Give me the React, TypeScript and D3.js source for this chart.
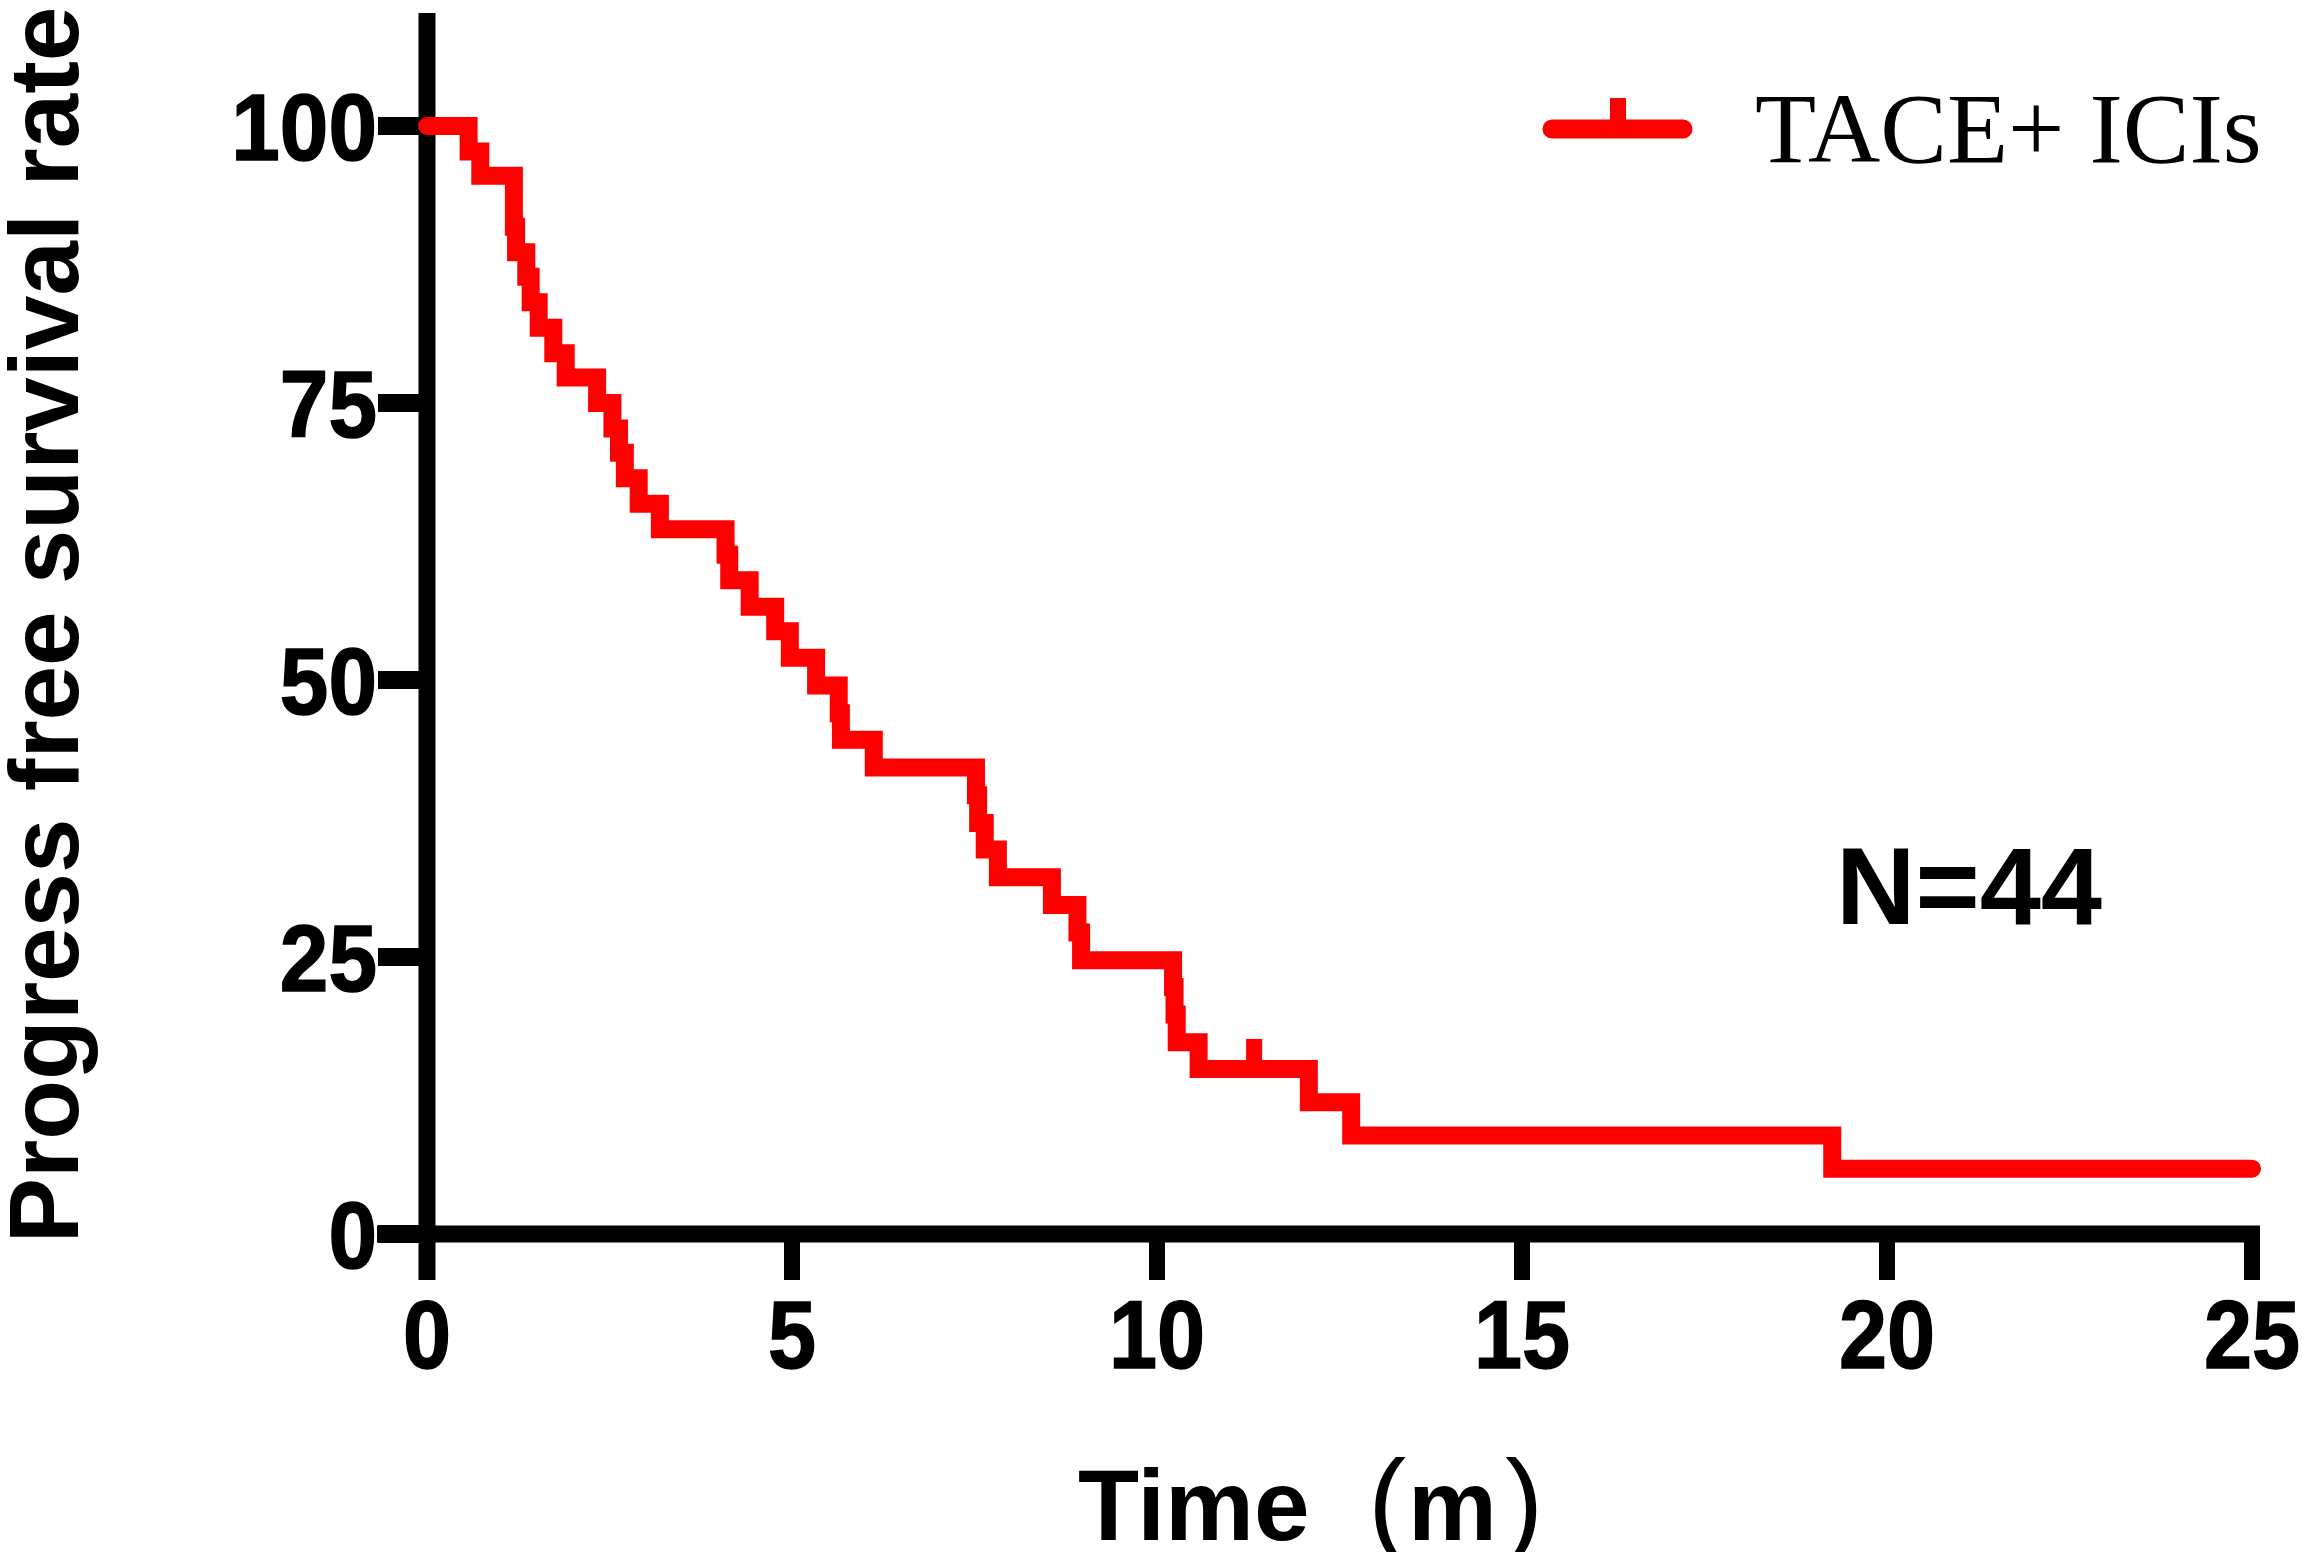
import React from "react";
import * as d3 from "d3";

// ---- data ----
const eventTimes = [0, 0.57, 0.73, 1.19, 1.22, 1.36, 1.42, 1.53, 1.73, 1.9, 2.33, 2.54, 2.63, 2.71, 2.9, 3.19, 4.09, 4.14, 4.42, 4.77, 4.97, 5.33, 5.64, 5.67, 6.12, 7.52, 7.55, 7.64, 7.82, 8.56, 8.91, 8.96, 10.22, 10.24, 10.27, 10.57, 12.08, 12.66, 19.25, 25];
const survival = [100, 97.7, 95.5, 90.9, 88.6, 86.4, 84.1, 81.8, 79.5, 77.3, 75.0, 72.7, 70.5, 68.2, 65.9, 63.6, 61.3, 59.0, 56.6, 54.4, 52.0, 49.5, 47.0, 44.6, 42.1, 39.6, 37.1, 34.7, 32.2, 29.7, 27.2, 24.7, 22.3, 19.8, 17.3, 14.9, 11.9, 8.9, 5.9, 5.9];
const censorTimes = [11.33];
const censorValues = [14.9];
const xTicks = [0, 5, 10, 15, 20, 25];
const yTicks = [0, 25, 50, 75, 100];
const seriesName = "TACE+ ICIs";
const nLabel = "N=44";
const xTitle = "Time";
const xUnit = "m";
const yTitle = "Progress free survival rate";

const W = 2303;
const H = 1552;
const RED = "#FF0000";
const SANS = "'Liberation Sans', Arial, Helvetica, sans-serif";

export default function App() {
  const x = d3.scaleLinear().domain([0, 25]).range([427, 2252]);
  const y = d3.scaleLinear().domain([0, 100]).range([1234, 126]);
  const pts: [number, number][] = eventTimes.map((t, i) => [t, survival[i]]);
  const line = d3
    .line<[number, number]>()
    .x((d) => x(d[0]))
    .y((d) => y(d[1]))
    .curve(d3.curveStepAfter);

  const x0 = x(0);
  const y0 = y(0);

  return (
    <svg
      width={W}
      height={H}
      viewBox={`0 0 ${W} ${H}`}
      style={{ position: "absolute", left: 0, top: 0, background: "#fff" }}
    >
      <rect x={0} y={0} width={W} height={H} fill="#fff" />
      {/* axes */}
      <line x1={x0} x2={x0} y1={13} y2={1280} stroke="#000" strokeWidth={17} />
      <line x1={377} x2={x(25) + 8} y1={y0} y2={y0} stroke="#000" strokeWidth={17} />
      {xTicks.map((t) => (
        <g key={"xt" + t}>
          <line x1={x(t)} x2={x(t)} y1={y0} y2={1280} stroke="#000" strokeWidth={16} />
          <g transform={`translate(${x(t)},1368) scale(0.9,1)`}>
            <text
              textAnchor="middle"
              fontFamily={SANS}
              fontWeight="bold"
              fontSize={96}
              fill="#000"
              stroke="#000"
              strokeWidth={1.5}
            >
              {t}
            </text>
          </g>
        </g>
      ))}
      {yTicks.map((t) => (
        <g key={"yt" + t}>
          <line x1={378} x2={x0} y1={y(t)} y2={y(t)} stroke="#000" strokeWidth={18} />
          <g transform={`translate(377,${y(t) + 34}) scale(0.92,1)`}>
            <text
              textAnchor="end"
              fontFamily={SANS}
              fontWeight="bold"
              fontSize={95}
              fill="#000"
              stroke="#000"
              strokeWidth={1.5}
            >
              {t}
            </text>
          </g>
        </g>
      ))}
      {/* axis titles */}
      <text
        transform={`translate(78,625) rotate(-90)`}
        textAnchor="middle"
        fontFamily={SANS}
        fontWeight="bold"
        fontSize={98}
        fill="#000"
      >
        {yTitle}
      </text>
      <text y={1540} fontFamily={SANS} fill="#000">
        <tspan x={1078} fontWeight="bold" fontSize={100}>
          {xTitle}
        </tspan>
        <tspan x={1368} fontWeight="normal" fontSize={115}>
          (
        </tspan>
        <tspan x={1408} fontWeight="bold" fontSize={100}>
          {xUnit}
        </tspan>
        <tspan x={1505} fontWeight="normal" fontSize={115}>
          )
        </tspan>
      </text>
      {/* survival curve */}
      <path
        d={line(pts) || ""}
        fill="none"
        stroke={RED}
        strokeWidth={18}
        strokeLinejoin="miter"
        strokeLinecap="round"
      />
      {censorTimes.map((t, i) => (
        <line
          key={"c" + i}
          x1={x(t)}
          x2={x(t)}
          y1={y(censorValues[i])}
          y2={y(censorValues[i]) - 30}
          stroke={RED}
          strokeWidth={16}
        />
      ))}
      {/* legend */}
      <line x1={1552} x2={1683} y1={129} y2={129} stroke={RED} strokeWidth={19} strokeLinecap="round" />
      <line x1={1618} x2={1618} y1={129} y2={98} stroke={RED} strokeWidth={16} />
      <text
        x={1755}
        y={162}
        fontFamily="'Liberation Serif', 'Times New Roman', serif"
        fontSize={100}
        fill="#000"
      >
        {seriesName}
      </text>
      <text x={1836} y={924} fontFamily={SANS} fontWeight="bold" fontSize={110} fill="#000">
        {nLabel}
      </text>
    </svg>
  );
}
